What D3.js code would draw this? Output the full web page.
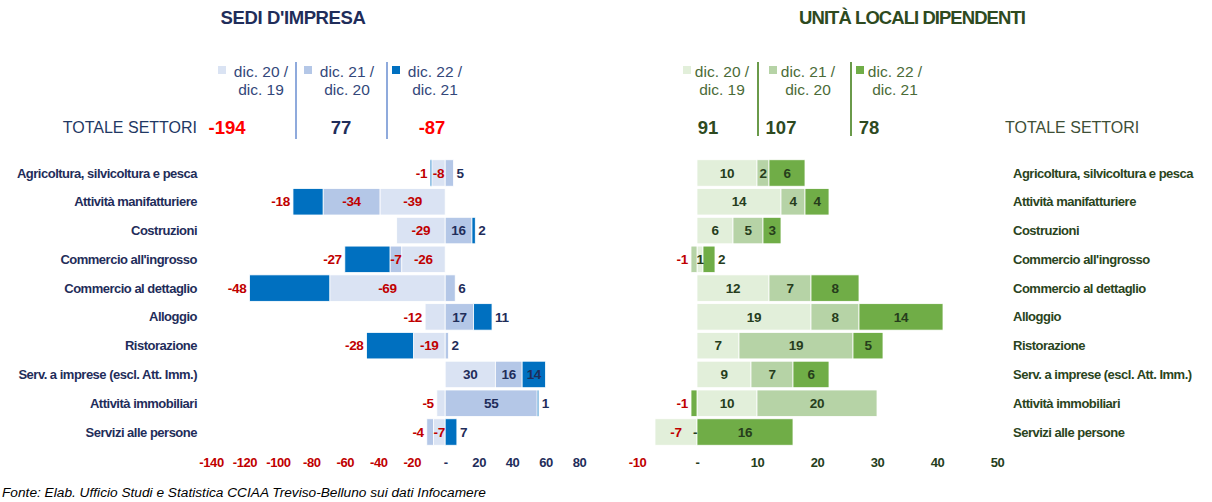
<!DOCTYPE html>
<html>
<head>
<meta charset="utf-8">
<script src="https://cdn.jsdelivr.net/npm/d3@7"></script>
<style>
  html, body { margin: 0; padding: 0; background: #fff; }
  svg { display: block; font-family: "Liberation Sans", Arial, sans-serif; }
</style>
</head>
<body>
<svg id="chart" width="1212" height="502"></svg>
<script>
// ---------- DATA ----------
const categories = [
  "Agricoltura, silvicoltura e pesca",
  "Attività manifatturiere",
  "Costruzioni",
  "Commercio all'ingrosso",
  "Commercio al dettaglio",
  "Alloggio",
  "Ristorazione",
  "Serv. a imprese (escl. Att. Imm.)",
  "Attività immobiliari",
  "Servizi alle persone"
];
const seriesNames = [["dic. 20 /", "dic. 19"], ["dic. 21 /", "dic. 20"], ["dic. 22 /", "dic. 21"]];

// Sedi d'impresa
const sedi_20_19 = [-8, -39, -29, -26, -69, -12, -19, 30, -5, -7];
const sedi_21_20 = [5, -34, 16, -7, 6, 17, 2, 16, 55, -4];
const sedi_22_21 = [-1, -18, 2, -27, -48, 11, -28, 14, 1, 7];
const sediTotals = [-194, 77, -87];
const sediTicks = [-140, -120, -100, -80, -60, -40, -20, 0, 20, 40, 60, 80];

// Unità locali dipendenti
const ul_20_19 = [10, 14, 6, 1, 12, 19, 7, 9, 10, -7];
const ul_21_20 = [2, 4, 5, -1, 7, 8, 19, 7, 20, 0];
const ul_22_21 = [6, 4, 3, 2, 8, 14, 5, 6, -1, 16];
const ulTotals = [91, 107, 78];
const ulTicks = [-10, 0, 10, 20, 30, 40, 50];

// ---------- STYLE ----------
const blueColors = ["#dae3f3", "#b4c7e7", "#0070c0"];
const greenColors = ["#e2efda", "#b6d3a6", "#70ad47"];
const RED = "#c00000";

const svg = d3.select("#chart");

const y = d3.scaleBand().domain(categories)
  .range([158.6, 446.4]).paddingInner(0.08).paddingOuter(0.04);

function fmt(v) { return v === 0 ? "-" : String(v); }

function drawBars(g, x, arrays, colors, posColor) {
  const keys = ["a", "b", "c"];
  const rows = categories.map((cat, i) => ({ cat, a: arrays[0][i], b: arrays[1][i], c: arrays[2][i] }));
  const stacked = d3.stack().keys(keys).offset(d3.stackOffsetDiverging)(rows);

  stacked.forEach((ser, k) => {
    g.append("g").selectAll("rect").data(ser).join("rect")
      .attr("x", d => x(Math.min(d[0], d[1])))
      .attr("width", d => Math.abs(x(d[1]) - x(d[0])))
      .attr("y", d => y(d.data.cat))
      .attr("height", y.bandwidth())
      .attr("fill", colors[k])
      .attr("stroke", "#fff").attr("stroke-width", 0.8);
  });

  const lab = g.append("g").attr("font-size", 13.5).attr("font-weight", "bold")
    .attr("letter-spacing", -0.3);
  stacked.forEach((ser, k) => {
    ser.forEach((d, i) => {
      const v = arrays[k][i];
      const x0 = x(Math.min(d[0], d[1])), x1 = x(Math.max(d[0], d[1]));
      const w = x1 - x0;
      const text = fmt(v);
      const tw = text.length * 7;
      let outermost = true;
      for (let j = k + 1; j < 3; j++) {
        if (v > 0 && arrays[j][i] > 0) outermost = false;
        if (v < 0 && arrays[j][i] < 0) outermost = false;
      }
      let tx, anchor = "middle";
      if (v === 0) { tx = x(0) - 2; }
      else if ((k === 2 && v < 0) || (outermost && w < tw + 6)) {
        if (v > 0) { tx = x1 + 3; anchor = "start"; }
        else { tx = x0 - 3; anchor = "end"; }
      } else { tx = (x0 + x1) / 2; }
      lab.append("text")
        .attr("x", tx).attr("y", y(d.data.cat) + y.bandwidth() / 2)
        .attr("dy", "0.35em").attr("text-anchor", anchor)
        .attr("fill", v < 0 ? RED : posColor)
        .text(text);
    });
  });
}

function drawAxis(x, ticks, posColor) {
  const ax = d3.axisBottom(x).tickValues(ticks).tickSize(0).tickFormat(fmt);
  const ga = svg.append("g").attr("transform", "translate(0,455)").call(ax);
  ga.select(".domain").remove();
  ga.selectAll("text")
    .attr("font-family", "Liberation Sans, Arial, sans-serif")
    .attr("font-size", 13).attr("font-weight", "bold").attr("letter-spacing", -0.4)
    .attr("fill", d => d < 0 ? RED : posColor);
}

// ---------- LEFT: SEDI D'IMPRESA ----------
const NAVY = "#1f2d5a";
const xL = d3.scaleLinear().domain([-140, 80]).range([211, 579]);
const gL = svg.append("g");
drawBars(gL, xL, [sedi_20_19, sedi_21_20, sedi_22_21], blueColors, NAVY);
drawAxis(xL, sediTicks, NAVY);

svg.append("g").selectAll("text").data(categories).join("text")
  .attr("x", 197).attr("y", d => y(d) + y.bandwidth() / 2).attr("dy", "0.35em")
  .attr("text-anchor", "end").attr("font-size", 13).attr("font-weight", "bold")
  .attr("letter-spacing", -0.5).attr("fill", NAVY).text(d => d);

svg.append("text").attr("x", 293).attr("y", 23.5).attr("text-anchor", "middle")
  .attr("font-size", 18.5).attr("font-weight", "bold").attr("letter-spacing", -0.4)
  .attr("fill", NAVY).text("SEDI D'IMPRESA");

// legend left
const legL = [261, 347, 435];
const legLColor = "#33477a";
seriesNames.forEach((nm, k) => {
  const cx = legL[k];
  svg.append("rect").attr("x", cx - 43).attr("y", 66).attr("width", 8).attr("height", 8)
    .attr("fill", blueColors[k]);
  svg.append("text").attr("x", cx).attr("y", 77).attr("text-anchor", "middle")
    .attr("font-size", 15.5).attr("fill", legLColor).text(nm[0]);
  svg.append("text").attr("x", cx).attr("y", 95).attr("text-anchor", "middle")
    .attr("font-size", 15.5).attr("fill", legLColor).text(nm[1]);
});
[296, 387].forEach(sx => svg.append("line").attr("x1", sx).attr("x2", sx)
  .attr("y1", 62).attr("y2", 139).attr("stroke", "#8faadc").attr("stroke-width", 2));
svg.append("text").attr("x", 197).attr("y", 133).attr("text-anchor", "end")
  .attr("font-size", 16).attr("fill", "#1f3864").text("TOTALE SETTORI");
const totLX = [227, 341, 432];
sediTotals.forEach((v, k) => svg.append("text").attr("x", totLX[k]).attr("y", 134)
  .attr("text-anchor", "middle").attr("font-size", 18.5).attr("font-weight", "bold")
  .attr("fill", v < 0 ? "#ff0000" : NAVY).text(v));

// ---------- RIGHT: UNITÀ LOCALI DIPENDENTI ----------
const DKGREEN = "#263d1c";
const xR = d3.scaleLinear().domain([-10, 50]).range([637, 997]);
const gR = svg.append("g");
drawBars(gR, xR, [ul_20_19, ul_21_20, ul_22_21], greenColors, DKGREEN);
drawAxis(xR, ulTicks, DKGREEN);

svg.append("g").selectAll("text").data(categories).join("text")
  .attr("x", 1013).attr("y", d => y(d) + y.bandwidth() / 2).attr("dy", "0.35em")
  .attr("text-anchor", "start").attr("font-size", 13).attr("font-weight", "bold")
  .attr("letter-spacing", -0.5).attr("fill", "#2a4420").text(d => d);

svg.append("text").attr("x", 912).attr("y", 23.5).attr("text-anchor", "middle")
  .attr("font-size", 18.5).attr("font-weight", "bold").attr("letter-spacing", -0.95)
  .attr("fill", "#2e4a1f").text("UNITÀ LOCALI DIPENDENTI");

const legR = [722, 808, 895];
const legRColor = "#4b6b37";
seriesNames.forEach((nm, k) => {
  const cx = legR[k];
  svg.append("rect").attr("x", cx - 39).attr("y", 66).attr("width", 8).attr("height", 8)
    .attr("fill", greenColors[k]);
  svg.append("text").attr("x", cx).attr("y", 77).attr("text-anchor", "middle")
    .attr("font-size", 15.5).attr("fill", legRColor).text(nm[0]);
  svg.append("text").attr("x", cx).attr("y", 95).attr("text-anchor", "middle")
    .attr("font-size", 15.5).attr("fill", legRColor).text(nm[1]);
});
[758, 851].forEach(sx => svg.append("line").attr("x1", sx).attr("x2", sx)
  .attr("y1", 62).attr("y2", 136).attr("stroke", "#6a9a4a").attr("stroke-width", 2));
const totRX = [708, 781, 869];
ulTotals.forEach((v, k) => svg.append("text").attr("x", totRX[k]).attr("y", 134)
  .attr("text-anchor", "middle").attr("font-size", 18.5).attr("font-weight", "bold")
  .attr("fill", v < 0 ? "#ff0000" : "#2e4a1f").text(v));
svg.append("text").attr("x", 1005).attr("y", 133).attr("text-anchor", "start")
  .attr("font-size", 16).attr("fill", "#3e4f36").text("TOTALE SETTORI");

// ---------- FOOTER ----------
svg.append("text").attr("x", 2).attr("y", 497)
  .attr("font-size", 13.7).attr("font-style", "italic").attr("fill", "#000")
  .text("Fonte: Elab. Ufficio Studi e Statistica CCIAA Treviso-Belluno sui dati Infocamere");
</script>
</body>
</html>
